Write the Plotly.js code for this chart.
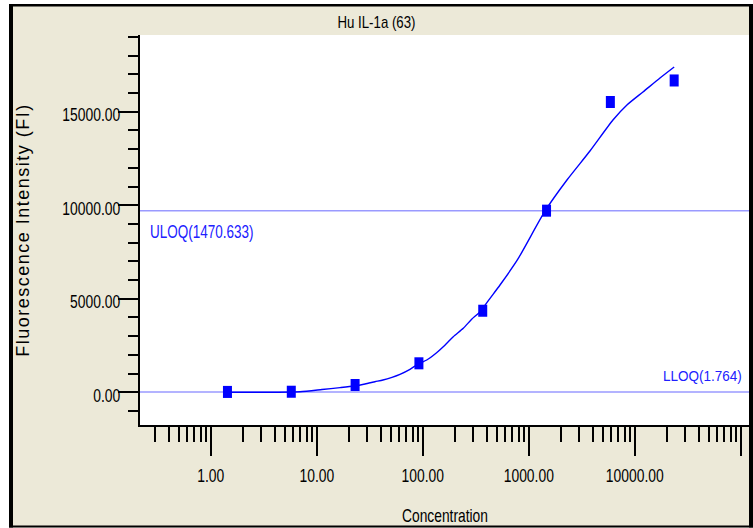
<!DOCTYPE html>
<html>
<head>
<meta charset="utf-8">
<script src="https://cdn.plot.ly/plotly-3.0.1.min.js"></script>
<style>
html,body{margin:0;padding:0;background:#ffffff;}
#chart{width:753px;height:528px;}
.ytitle{letter-spacing:1.5px;}
</style>
</head>
<body>
<div id="chart"></div>
<script>
// ---- data ----
const concentrations = [1.436, 5.745, 22.98, 91.91, 367.66, 1470.633, 5882.53, 23530.1];
const fluorescence   = [20, 30, 390, 1550, 4360, 9710, 15520, 16670];
const curveConc = [1.436, 6.94, 11.2, 16.6, 22.4, 28.5, 35.4, 42.1, 51.2, 60.9, 75.7, 90.7, 109, 135, 156, 194, 241, 289, 347, 431, 535, 780, 1429, 2291, 3776, 6223, 8433, 11940, 17290, 23530];
const curveFI   = [5, 32, 150, 250, 337, 444, 567, 658, 802, 962, 1230, 1513, 1727, 2117, 2438, 2972, 3421, 3903, 4309, 5025, 5736, 7073, 9708, 11350, 12900, 14557, 15359, 16054, 16803, 17391];
const uloqFI = 9700;
const lloqFI = 20;
const uloqLabel = 'ULOQ(1470.633)';
const lloqLabel = 'LLOQ(1.764)';
const xTickVals = [1, 10, 100, 1000, 10000, 100000];
const xTickText = ['1.00', '10.00', '100.00', '1000.00', '10000.00', ''];
const minorDigits = [2, 3, 4, 5, 6, 7, 8, 9];
const minorDecades = [0.1, 1, 10, 100, 1000, 10000];
const chartTitle = 'Hu IL-1a (63)';
const xTitle = 'Concentration';
const yTitle = 'Fluorescence Intensity (FI)';

// ---- geometry helpers (pixel -> paper) ----
const L = 140, R = 750, T = 35, B = 425;
const px = p => (p - L) / (R - L);
const py = p => (B - p) / (B - T);
const SANS = '"Liberation Sans", Arial, sans-serif';
const BLUE = '#0000ff';

const minorVals = [];
minorDecades.forEach(d => minorDigits.forEach(k => minorVals.push(k * d)));

function rect(x0, y0, x1, y1, color) {
  return {type: 'rect', xref: 'paper', yref: 'paper', layer: 'above',
    x0: px(x0), x1: px(x1), y0: py(y1), y1: py(y0),
    fillcolor: color, line: {width: 0}};
}

const data = [
  {x: curveConc, y: curveFI, type: 'scatter', mode: 'lines',
   line: {color: BLUE, width: 1.4, shape: 'spline', smoothing: 0.6}, hoverinfo: 'skip'},
  {x: concentrations, y: fluorescence, type: 'scatter', mode: 'markers',
   marker: {symbol: 'line-ns', size: 8.6, color: BLUE, line: {color: BLUE, width: 9}}}
];

const layout = {
  width: 753, height: 528,
  margin: {l: L, r: 753 - R, t: T, b: 528 - B, pad: 0},
  paper_bgcolor: '#ece9d8',
  plot_bgcolor: '#ffffff',
  showlegend: false,
  title: {text: chartTitle, x: 0.5, xref: 'container', xanchor: 'center',
          y: 1 - 22 / 528, yref: 'container', yanchor: 'middle',
          font: {family: SANS, size: 17, color: '#000000'}},
  xaxis: {
    type: 'log', range: [-0.668, 5.087], autorange: false,
    showline: true, linecolor: '#000000', linewidth: 2, mirror: false,
    showgrid: false, zeroline: false,
    tickmode: 'array', tickvals: xTickVals, ticktext: xTickText,
    ticks: 'outside', ticklen: 29, tickwidth: 2, tickcolor: '#000000',
    ticklabelstandoff: 3,
    tickfont: {family: SANS, size: 19, color: '#000000'},
    minor: {tickmode: 'array', tickvals: minorVals, ticks: 'outside', ticklen: 15, tickwidth: 2, tickcolor: '#000000', showgrid: false},
    title: {text: xTitle, font: {family: SANS, size: 18.5, color: '#000000'}, standoff: 24}
  },
  yaxis: {
    range: [-1748, 19101], autorange: false,
    showline: true, linecolor: '#000000', linewidth: 2, mirror: false,
    showgrid: false, zeroline: false,
    tickmode: 'linear', tick0: 0, dtick: 5000, tickformat: '.2f',
    ticks: 'outside', ticklen: 20, tickwidth: 2, tickcolor: '#000000',
    ticklabelstandoff: -6,
    tickfont: {family: SANS, size: 19, color: '#000000'},
    minor: {tick0: 0, dtick: 1000, ticks: 'outside', ticklen: 10, tickwidth: 2, tickcolor: '#000000', showgrid: false},
    title: {text: yTitle, font: {family: SANS, size: 18, color: '#000000'}, standoff: 7}
  },
  shapes: [
    {type: 'line', xref: 'paper', x0: 0, x1: 1, yref: 'y', y0: uloqFI, y1: uloqFI, layer: 'below',
     line: {color: '#9a9aff', width: 1.5}},
    {type: 'line', xref: 'paper', x0: 0, x1: 1, yref: 'y', y0: lloqFI, y1: lloqFI, layer: 'below',
     line: {color: '#9a9aff', width: 1.5}},
    rect(0, 0, 9, 528, '#ffffff'),
    rect(0, 0, 753, 4, '#ffffff'),
    rect(0, 527.5, 753, 528, '#ffffff'),
    rect(9, 4, 13, 527.5, '#000000'),
    rect(9, 4, 753, 6.5, '#000000'),
    rect(749, 4, 753, 527.5, '#000000'),
    rect(9, 525.5, 753, 527.5, '#000000')
  ],
  annotations: [
    {text: uloqLabel, xref: 'paper', x: px(148), xanchor: 'left', align: 'left', yref: 'y', y: uloqFI, yanchor: 'middle',
     yshift: -21, showarrow: false, font: {family: SANS, size: 17.5, color: '#2020ff'}},
    {text: lloqLabel, xref: 'paper', x: px(744), xanchor: 'right', align: 'right', yref: 'y', y: lloqFI, yanchor: 'middle',
     yshift: 16, showarrow: false, font: {family: SANS, size: 14.5, color: '#2020ff'}}
  ]
};

// horizontally condense text to mimic the narrow font of the original
function squeezeText(t, factor) {
  const len = t.getComputedTextLength();
  if (len > 0) {
    t.setAttribute('textLength', (len * factor).toFixed(1));
    t.setAttribute('lengthAdjust', 'spacingAndGlyphs');
  }
}
function squeezeSel(gd, sel, factor) {
  gd.querySelectorAll(sel).forEach(t => squeezeText(t, factor));
}
function squeeze(gd) {
  squeezeSel(gd, '.xtick text, .ytick text', 0.73);
  squeezeSel(gd, '.gtitle', 0.78);
  squeezeSel(gd, '.xtitle', 0.745);
  gd.querySelectorAll('.annotation-text').forEach(t => {
    squeezeText(t, t.textContent === uloqLabel ? 0.77 : 0.93);
  });
  gd.querySelectorAll('.ytick text').forEach(t => {
    t.setAttribute('y', (parseFloat(t.getAttribute('y') || '0') + 3).toFixed(2));
  });
}

Plotly.newPlot('chart', data, layout, {displayModeBar: false, staticPlot: true}).then(squeeze);
</script>
</body>
</html>
